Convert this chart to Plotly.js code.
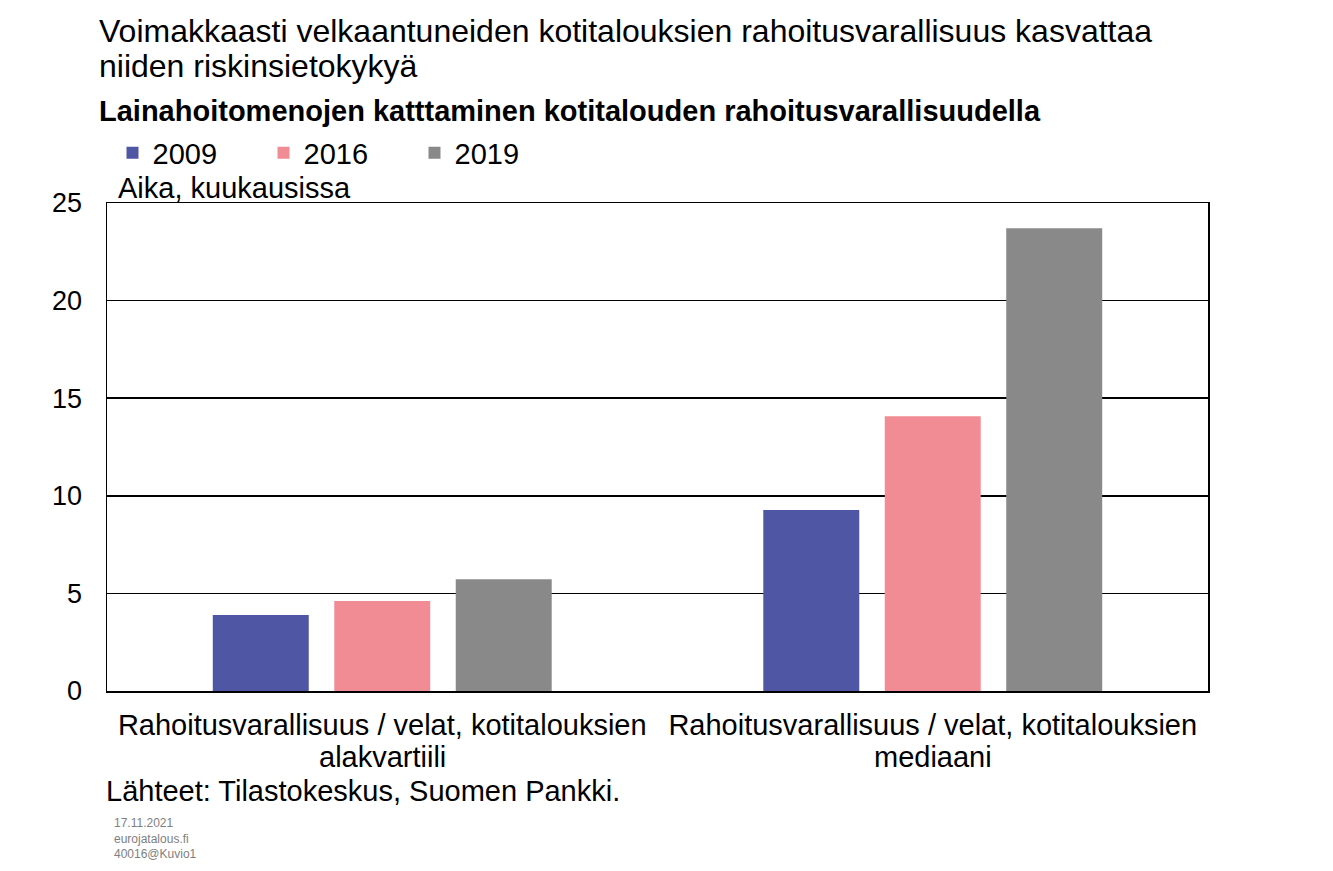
<!DOCTYPE html>
<html>
<head>
<meta charset="utf-8">
<script src="https://cdn.plot.ly/plotly-3.0.1.min.js"></script>
<style>body{margin:0;background:#fff}#chart{width:1333px;height:871px}</style>
</head>
<body>
<div id="chart"></div>
<script>
const categoryLine1 = ["Rahoitusvarallisuus / velat, kotitalouksien", "Rahoitusvarallisuus / velat, kotitalouksien"];
const categoryLine2 = ["alakvartiili", "mediaani"];
const categories = categoryLine1.map((a, i) => a + " " + categoryLine2[i]);
const seriesNames = ["2009", "2016", "2019"];
const values2009 = [3.89, 9.27];
const values2016 = [4.61, 14.08];
const values2019 = [5.73, 23.71];
const yTicks = [0, 5, 10, 15, 20, 25];

const colors = ["#4F56A3", "#F28C94", "#898989"];
const FONT = "Liberation Sans, Arial, sans-serif";
const seriesValues = [values2009, values2016, values2019];

const traces = seriesNames.map((name, i) => ({
  type: "bar", name: name, x: categories, y: seriesValues[i],
  marker: {color: colors[i]}, hoverinfo: "none"
}));

function px(xp) { return (xp - 107) / 1101; }
function py(yp) { return (691 - yp) / 488; }

const annotations = [
  {text: "Voimakkaasti velkaantuneiden kotitalouksien rahoitusvarallisuus kasvattaa", x: px(97), y: py(31), size: 32},
  {text: "niiden riskinsietokykyä", x: px(97), y: py(66), size: 32},
  {text: "<b>Lainahoitomenojen katttaminen kotitalouden rahoitusvarallisuudella</b>", x: px(97), y: py(111), size: 29},
  {text: "Aika, kuukausissa", x: px(116), y: py(188), size: 29},
  {text: "Lähteet: Tilastokeskus, Suomen Pankki.", x: px(104), y: py(791), size: 29}
].map(a => ({text: a.text, xref: "paper", yref: "paper", x: a.x, y: a.y, showarrow: false,
             xanchor: "left", yanchor: "middle", font: {size: a.size, family: FONT, color: "#000"}}));

annotations.push({text: "17.11.2021<br>eurojatalous.fi<br>40016@Kuvio1", xref: "paper", yref: "paper",
  x: px(112), y: py(814), showarrow: false, xanchor: "left", yanchor: "top", align: "left",
  font: {size: 12, family: FONT, color: "#808080"}});

categoryLine2.forEach((t, i) => annotations.push({
  text: t, xref: "x", yref: "paper", x: categories[i], y: py(757), showarrow: false,
  xanchor: "center", yanchor: "middle", font: {size: 29, family: FONT, color: "#000"}
}));

const layout = {
  width: 1333, height: 871,
  margin: {l: 107, r: 125, t: 203, b: 180},
  paper_bgcolor: "#fff", plot_bgcolor: "#fff",
  font: {family: FONT, color: "#000", size: 29},
  barmode: "group", bargap: 0.338, bargroupgap: 0.21,
  showlegend: true,
  legend: {orientation: "h", x: 0.005, xanchor: "left", y: py(153), yanchor: "middle",
           font: {size: 29, family: FONT}, entrywidth: 106, entrywidthmode: "pixels",
           itemwidth: 30, tracegroupgap: 0},
  xaxis: {showline: true, linecolor: "#000", linewidth: 1.5, mirror: true,
          showgrid: false, zeroline: false, ticks: "", ticklabelstandoff: 8,
          tickvals: categories, ticktext: categoryLine1,
          tickfont: {size: 29, family: FONT}},
  yaxis: {range: [0, 25], tickvals: yTicks, showline: true, linecolor: "#000", linewidth: 1.5,
          mirror: true, showgrid: true, gridcolor: "#000", gridwidth: 1.5, zeroline: false,
          ticks: "", ticklabelstandoff: 18, tickfont: {size: 27, family: FONT}},
  annotations: annotations
};

Plotly.newPlot("chart", traces, layout, {staticPlot: true});
</script>
</body>
</html>
